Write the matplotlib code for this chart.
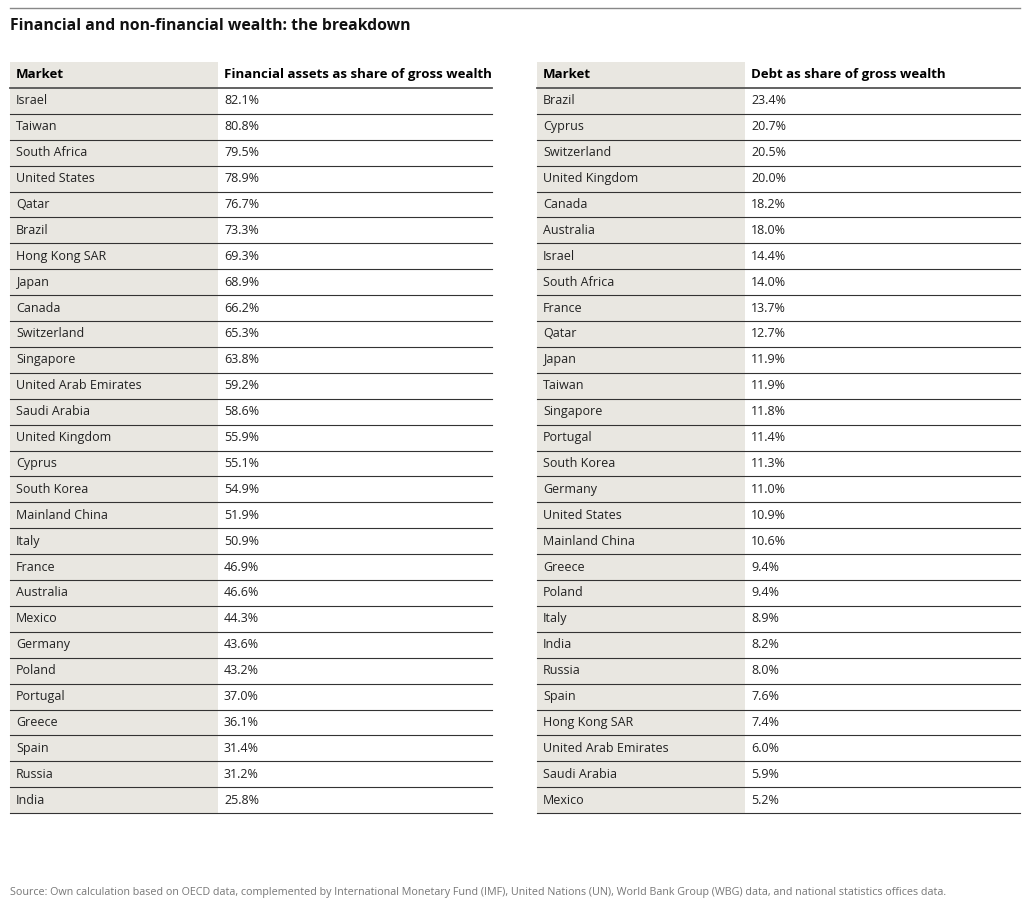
import matplotlib.pyplot as plt
from matplotlib.patches import Rectangle

left_markets = ["Israel", "Taiwan", "South Africa", "United States", "Qatar", "Brazil",
                "Hong Kong SAR", "Japan", "Canada", "Switzerland", "Singapore",
                "United Arab Emirates", "Saudi Arabia", "United Kingdom", "Cyprus",
                "South Korea", "Mainland China", "Italy", "France", "Australia", "Mexico",
                "Germany", "Poland", "Portugal", "Greece", "Spain", "Russia", "India"]
left_values = ["82.1%", "80.8%", "79.5%", "78.9%", "76.7%", "73.3%", "69.3%", "68.9%",
               "66.2%", "65.3%", "63.8%", "59.2%", "58.6%", "55.9%", "55.1%", "54.9%",
               "51.9%", "50.9%", "46.9%", "46.6%", "44.3%", "43.6%", "43.2%", "37.0%",
               "36.1%", "31.4%", "31.2%", "25.8%"]
right_markets = ["Brazil", "Cyprus", "Switzerland", "United Kingdom", "Canada", "Australia",
                 "Israel", "South Africa", "France", "Qatar", "Japan", "Taiwan", "Singapore",
                 "Portugal", "South Korea", "Germany", "United States", "Mainland China",
                 "Greece", "Poland", "Italy", "India", "Russia", "Spain", "Hong Kong SAR",
                 "United Arab Emirates", "Saudi Arabia", "Mexico"]
right_values = ["23.4%", "20.7%", "20.5%", "20.0%", "18.2%", "18.0%", "14.4%", "14.0%",
                "13.7%", "12.7%", "11.9%", "11.9%", "11.8%", "11.4%", "11.3%", "11.0%",
                "10.9%", "10.6%", "9.4%", "9.4%", "8.9%", "8.2%", "8.0%", "7.6%", "7.4%",
                "6.0%", "5.9%", "5.2%"]

plt.rcParams['font.family'] = ['Open Sans', 'DejaVu Sans']
fig = plt.figure(figsize=(10.24, 9.16), dpi=100)
ax = fig.add_axes([0, 0, 1, 1])
ax.set_xlim(0, 1024)
ax.set_ylim(916, 0)
ax.axis('off')

gray = '#e9e7e1'
ax.plot([10, 1020], [8, 8], color='#888888', lw=1)
ax.text(10, 26, "Financial and non-financial wealth: the breakdown", fontsize=11.3,
        fontweight='bold', va='center', color='#111111')


def draw_table(x0, xs, x1, head2, markets, values):
    top, row_h = 62, 25.9
    n = len(markets)
    bottom = top + row_h * (n + 1)
    ax.add_patch(Rectangle((x0, top), xs - x0, bottom - top, color=gray, lw=0))
    ax.text(x0 + 6, top + row_h / 2, "Market", fontsize=9.5, fontweight='bold', va='center')
    ax.text(xs + 6, top + row_h / 2, head2, fontsize=9.5, fontweight='bold', va='center')
    ax.plot([x0, x1], [top + row_h, top + row_h], color='#555555', lw=1.3)
    for i, (m, v) in enumerate(zip(markets, values)):
        yc = top + row_h * (i + 1.5)
        ax.text(x0 + 6, yc, m, fontsize=9, va='center', color='#222222')
        ax.text(xs + 6, yc, v, fontsize=9, va='center', color='#222222')
        yl = top + row_h * (i + 2)
        ax.plot([x0, x1], [yl, yl], color='#333333', lw=0.8)


draw_table(10, 218, 492, "Financial assets as share of gross wealth", left_markets, left_values)
draw_table(537, 745, 1020, "Debt as share of gross wealth", right_markets, right_values)

ax.text(10, 893, "Source: Own calculation based on OECD data, complemented by International Monetary Fund (IMF), "
        "United Nations (UN), World Bank Group (WBG) data, and national statistics offices data.",
        fontsize=7.75, va='center', color='#777777')

fig.savefig('out.png', dpi=100)
